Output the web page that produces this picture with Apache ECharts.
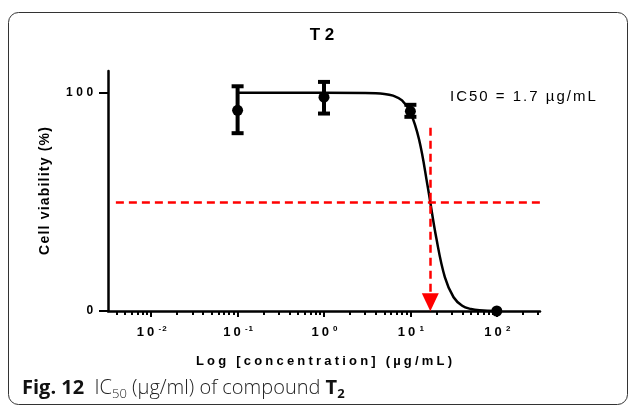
<!DOCTYPE html>
<html>
<head>
<meta charset="utf-8">
<script src="https://cdn.jsdelivr.net/npm/echarts@6/dist/echarts.min.js"></script>
<style>
  html, body { margin: 0; padding: 0; background: #fff; }
  #chart { width: 630px; height: 408px; }
</style>
</head>
<body>
<div id="chart"></div>
<script>
// measured points (µg/mL) with mean and error bar ends (%)
var conc = [0.1, 1, 10, 100]
var viability = [92, 98, 91.5, 0]
var errHigh = [103, 105, 94.5, 0]
var errLow = [81.5, 90.5, 89, 0]

// fitted curve
var curveConc = [0.1, 1, 3, 5, 6.3, 8, 10, 12.6, 15.8, 20, 25.1, 31.6, 39.8, 50.1, 63.1, 100]
var curveVal = [100, 100, 99.9, 99.5, 98.7, 96.5, 91, 78.6, 57.4, 33.2, 15.4, 6.3, 2.4, 0.9, 0.3, 0.05]

// red guide lines
var ic50Conc = 17
var halfLine = 50
var dropFrom = 84
var dropTo = 4
var halfLineFrom = 0.0039
var halfLineTo = 315

// axis ticks
var decades = [-2, -1, 0, 1, 2]
var minorDecades = [-3, -2, -1, 0, 1, 2]
var minorSteps = [2, 3, 4, 5, 6, 7, 8, 9]
var yTicks = [0, 100]

var lg = function (v) { return Math.log10(v) }

// the original export has wide letter spacing, so every char gets its own padded token
function tracked(text, key) {
  return text.split('').map(function (c) { return '{' + key + '|' + c + '}' }).join('')
}

var points = []
var bars = []
for (var i = 0; i < conc.length; i++) {
  points.push([lg(conc[i]), viability[i]])
  bars.push([lg(conc[i]), errHigh[i], errLow[i]])
}
var curve = []
for (var i = 0; i < curveConc.length; i++) {
  curve.push([lg(curveConc[i]), curveVal[i]])
}
var minorTicks = []
for (var i = 0; i < minorDecades.length; i++) {
  for (var j = 0; j < minorSteps.length; j++) {
    var v = minorDecades[i] + lg(minorSteps[j])
    if (v > -2.5 && v < 2.5) minorTicks.push(v)
  }
}

var font = 'Liberation Sans'
var chart = echarts.init(document.getElementById('chart'))
var option = {
  animation: false,
  grid: { left: 108, right: 90, top: 71, bottom: 97 },
  xAxis: [
    {
      type: 'value',
      min: -2.5,
      max: 2.5,
      name: tracked('Log [concentration] (µg/mL)', 't'),
      nameLocation: 'middle',
      nameGap: 44,
      nameTextStyle: {
        rich: {
          t: { fontFamily: font, fontWeight: 'bold', fontSize: 13, color: '#000', padding: [0, 1.6, 0, 1.6] }
        }
      },
      splitLine: { show: false },
      axisLine: { show: true, onZero: false, lineStyle: { color: '#000', width: 2.5 } },
      axisTick: { show: true, customValues: decades, length: 6, lineStyle: { color: '#000', width: 2 } },
      axisLabel: {
        customValues: decades,
        margin: 14,
        formatter: function (v) { return tracked('10', 'b') + '{sp| }' + tracked(String(v), 's') },
        rich: {
          b: { fontFamily: font, fontWeight: 'bold', fontSize: 13, color: '#000', lineHeight: 15, padding: [0, 1.5, 0, 1.5] },
          sp: { fontFamily: font, fontSize: 8, lineHeight: 15 },
          s: { fontFamily: font, fontWeight: 'bold', fontSize: 8, color: '#000', verticalAlign: 'top', lineHeight: 11, padding: [0, 0.5, 0, 0.5] }
        }
      }
    },
    {
      type: 'value',
      min: -2.5,
      max: 2.5,
      position: 'bottom',
      offset: 0,
      splitLine: { show: false },
      axisLine: { show: false, onZero: false },
      axisLabel: { show: false },
      axisTick: { show: true, customValues: minorTicks, length: 4, lineStyle: { color: '#000', width: 2 } }
    }
  ],
  yAxis: {
    type: 'value',
    min: 0,
    max: 110,
    name: tracked('Cell viability (%)', 't'),
    nameLocation: 'middle',
    nameGap: 56,
    nameRotate: 90,
    nameTextStyle: {
      rich: {
        t: { fontFamily: font, fontWeight: 'bold', fontSize: 14, color: '#000', padding: [0, 0.6, 0, 0.6] }
      }
    },
    splitLine: { show: false },
    axisLine: { show: true, onZero: false, lineStyle: { color: '#000', width: 2.5 } },
    axisTick: { show: true, customValues: yTicks, length: 9, lineStyle: { color: '#000', width: 2 } },
    axisLabel: {
      customValues: yTicks,
      margin: 13,
      formatter: function (v) { return tracked(String(v), 'y') },
      rich: {
        y: { fontFamily: font, fontWeight: 'bold', fontSize: 12, color: '#000', padding: [0, 1.8, 0, 1.8] }
      }
    }
  },
  graphic: [
    {
      type: 'rect',
      shape: { x: 8.5, y: 12.5, width: 619, height: 392, r: 10 },
      style: { fill: 'none', stroke: '#333', lineWidth: 1 },
      silent: true
    },
    {
      type: 'text',
      x: 322,
      y: 35,
      style: {
        text: 'T 2',
        fontFamily: font,
        fontWeight: 'bold',
        fontSize: 17,
        fill: '#000',
        align: 'center',
        verticalAlign: 'middle'
      }
    },
    {
      type: 'text',
      x: 449,
      y: 97,
      style: {
        text: tracked('IC50 = 1.7 µg/mL', 'c'),
        verticalAlign: 'middle',
        rich: {
          c: { fontFamily: font, fontSize: 15, fill: '#000', padding: [0, 1, 0, 1] }
        }
      }
    },
    {
      type: 'text',
      x: 22,
      y: 388,
      style: {
        text: '{fb|Fig. 12}{n|  IC}{sub|50}{n| (µg/ml) of compound }{tb|T}{tsub|2}',
        verticalAlign: 'middle',
        rich: {
          fb: { fontFamily: 'Open Sans', fontWeight: 'bold', fontSize: 20, fill: '#111', lineHeight: 26 },
          n: { fontFamily: 'Open Sans', fontWeight: 300, fontSize: 20, fill: '#222', lineHeight: 26 },
          sub: { fontFamily: 'Open Sans', fontWeight: 300, fontSize: 13, fill: '#222', verticalAlign: 'bottom', lineHeight: 20 },
          tb: { fontFamily: 'Open Sans', fontWeight: 'bold', fontSize: 20, fill: '#111', lineHeight: 26 },
          tsub: { fontFamily: 'Open Sans', fontWeight: 'bold', fontSize: 13, fill: '#111', verticalAlign: 'bottom', lineHeight: 20 }
        }
      }
    }
  ],
  series: [
    {
      name: 'fit',
      type: 'line',
      data: curve,
      smooth: 0.4,
      showSymbol: false,
      lineStyle: { color: '#000', width: 2.5 },
      z: 3,
      markLine: {
        silent: true,
        symbol: 'none',
        lineStyle: { color: '#ff0000', type: [8, 5], width: 2.5 },
        label: { show: false },
        data: [
          [{ coord: [lg(halfLineFrom), halfLine] }, { coord: [lg(halfLineTo), halfLine] }],
          [
            { coord: [lg(ic50Conc), dropFrom], symbol: 'none' },
            { coord: [lg(ic50Conc), dropTo], symbol: 'triangle', symbolSize: [17, 18] }
          ]
        ]
      }
    },
    {
      name: 'error',
      type: 'custom',
      data: bars,
      z: 4,
      renderItem: function (params, api) {
        var x = api.value(0)
        var hi = api.value(1)
        var lo = api.value(2)
        if (hi === lo) return null
        var top = api.coord([x, hi])
        var bot = api.coord([x, lo])
        var w = 6
        var st = { stroke: '#000', lineWidth: 4 }
        return {
          type: 'group',
          children: [
            { type: 'line', shape: { x1: top[0], y1: top[1], x2: bot[0], y2: bot[1] }, style: st },
            { type: 'line', shape: { x1: top[0] - w, y1: top[1], x2: top[0] + w, y2: top[1] }, style: st },
            { type: 'line', shape: { x1: bot[0] - w, y1: bot[1], x2: bot[0] + w, y2: bot[1] }, style: st }
          ]
        }
      }
    },
    {
      name: 'mean',
      type: 'scatter',
      data: points,
      symbolSize: 11,
      itemStyle: { color: '#000', opacity: 1 },
      z: 5
    }
  ]
}
chart.setOption(option)
</script>
</body>
</html>
